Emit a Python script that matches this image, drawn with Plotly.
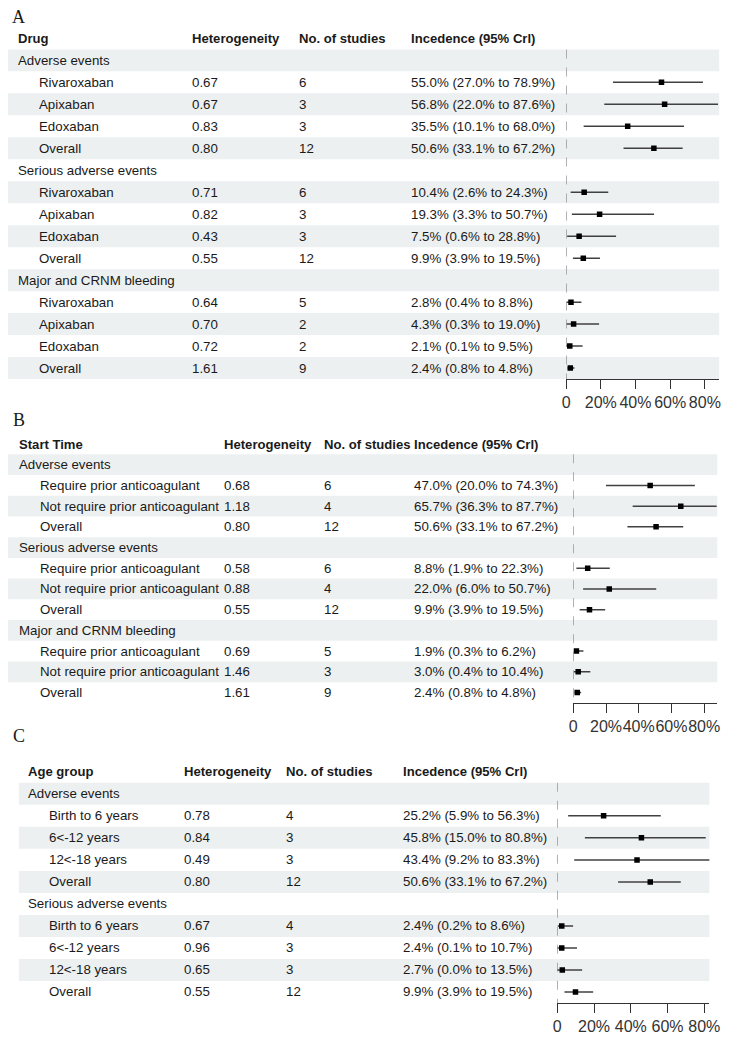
import plotly.graph_objects as go

# page size and default page margin of the html body
PAGE_W, PAGE_H = 750, 1043
OFF = 8
WF, HF = PAGE_W - 2 * OFF, PAGE_H - 2 * OFF

# ---------------- Panel A: Drug ----------------
A_HEADER = ["Drug", "Heterogeneity", "No. of studies", "Incedence (95% Crl)"]
A_GROUPS = ["Adverse events", "Serious adverse events", "Major and CRNM bleeding"]
A_LABELS = [["Rivaroxaban", "Apixaban", "Edoxaban", "Overall"],
            ["Rivaroxaban", "Apixaban", "Edoxaban", "Overall"],
            ["Rivaroxaban", "Apixaban", "Edoxaban", "Overall"]]
A_HET = [[0.67, 0.67, 0.83, 0.80], [0.71, 0.82, 0.43, 0.55], [0.64, 0.70, 0.72, 1.61]]
A_N = [[6, 3, 3, 12], [6, 3, 3, 12], [5, 2, 2, 9]]
A_EST = [[55.0, 56.8, 35.5, 50.6], [10.4, 19.3, 7.5, 9.9], [2.8, 4.3, 2.1, 2.4]]
A_LO = [[27.0, 22.0, 10.1, 33.1], [2.6, 3.3, 0.6, 3.9], [0.4, 0.3, 0.1, 0.8]]
A_HI = [[78.9, 87.6, 68.0, 67.2], [24.3, 50.7, 28.8, 19.5], [8.8, 19.0, 9.5, 4.8]]

# ---------------- Panel B: Start time ----------------
B_HEADER = ["Start Time", "Heterogeneity", "No. of studies", "Incedence (95% Crl)"]
B_GROUPS = ["Adverse events", "Serious adverse events", "Major and CRNM bleeding"]
B_LABELS = [["Require prior anticoagulant", "Not require prior anticoagulant", "Overall"],
            ["Require prior anticoagulant", "Not require prior anticoagulant", "Overall"],
            ["Require prior anticoagulant", "Not require prior anticoagulant", "Overall"]]
B_HET = [[0.68, 1.18, 0.80], [0.58, 0.88, 0.55], [0.69, 1.46, 1.61]]
B_N = [[6, 4, 12], [6, 4, 12], [5, 3, 9]]
B_EST = [[47.0, 65.7, 50.6], [8.8, 22.0, 9.9], [1.9, 3.0, 2.4]]
B_LO = [[20.0, 36.3, 33.1], [1.9, 6.0, 3.9], [0.3, 0.4, 0.8]]
B_HI = [[74.3, 87.7, 67.2], [22.3, 50.7, 19.5], [6.2, 10.4, 4.8]]

# ---------------- Panel C: Age group ----------------
C_HEADER = ["Age group", "Heterogeneity", "No. of studies", "Incedence (95% Crl)"]
C_GROUPS = ["Adverse events", "Serious adverse events"]
C_LABELS = [["Birth to 6 years", "6<-12 years", "12<-18 years", "Overall"],
            ["Birth to 6 years", "6<-12 years", "12<-18 years", "Overall"]]
C_HET = [[0.78, 0.84, 0.49, 0.80], [0.67, 0.96, 0.65, 0.55]]
C_N = [[4, 3, 3, 12], [4, 3, 3, 12]]
C_EST = [[25.2, 45.8, 43.4, 50.6], [2.4, 2.4, 2.7, 9.9]]
C_LO = [[5.9, 15.0, 9.2, 33.1], [0.2, 0.1, 0.0, 3.9]]
C_HI = [[56.3, 80.8, 83.3, 67.2], [8.6, 10.7, 13.5, 19.5]]

TICK_VALS = [0, 20, 40, 60, 80]
TICK_TEXT = ["0", "20%", "40%", "60%", "80%"]

# layout parameters (page pixels)
panels = [
    dict(letter="A", header=A_HEADER, groups=A_GROUPS, labels=A_LABELS, het=A_HET, n=A_N,
         est=A_EST, lo=A_LO, hi=A_HI, row0=60.8, rowh=22.15, cols=(13, 35, 191, 300, 414),
         stripe=(4, 730), zero=573.7, pxper=1.77, xmax=88.3, lpos=(15, 17)),
    dict(letter="B", header=B_HEADER, groups=B_GROUPS, labels=B_LABELS, het=B_HET, n=B_N,
         est=B_EST, lo=B_LO, hi=B_HI, row0=468.3, rowh=20.87, cols=(14, 36, 223, 325, 417),
         stripe=(4, 728), zero=581.0, pxper=1.67, xmax=87.8, lpos=(15, 423)),
    dict(letter="C", header=C_HEADER, groups=C_GROUPS, labels=C_LABELS, het=C_HET, n=C_N,
         est=C_EST, lo=C_LO, hi=C_HI, row0=800.0, rowh=22.19, cols=(23, 45, 183, 287, 406),
         stripe=(15, 720), zero=564.7, pxper=1.875, xmax=82.8, lpos=(15, 742)),
]


def px_x(x):
    return (x - OFF) / WF


def px_y(y):
    return 1 - (y - OFF) / HF


TXT_FONT = dict(family="Liberation Sans, Arial, sans-serif", size=13.3, color="#1a1a1a")
HDR_FONT = dict(family="Liberation Sans, Arial, sans-serif", size=13.1, color="#1a1a1a")
STRIPE = "#edf0f0"

fig = go.Figure()
shapes = []
annotations = []
layout = {}


def add_text(xpx, yref, row, text, font=TXT_FONT):
    annotations.append(dict(text=text, xref="paper", x=px_x(xpx), yref=yref, y=row,
                            xanchor="left", yanchor="middle", showarrow=False,
                            font=font, borderpad=0))


for i, p in enumerate(panels, start=1):
    xf = f"x{i}"
    yy = f"y{i}"
    c_lab, c_ind, c_het, c_n, c_inc = p["cols"]

    # header
    for xpx, h in zip((c_lab, c_het, c_n, c_inc), p["header"]):
        add_text(xpx, yy, -1, f"<b>{h}</b>", HDR_FONT)

    f_y, f_est, f_lo, f_hi = [], [], [], []
    r = 0
    for g, gname in enumerate(p["groups"]):
        add_text(c_lab, yy, r, gname)
        r += 1
        for k, lab in enumerate(p["labels"][g]):
            e, lo, hi = p["est"][g][k], p["lo"][g][k], p["hi"][g][k]
            add_text(c_ind, yy, r, lab)
            add_text(c_het, yy, r, f"{p['het'][g][k]:.2f}")
            add_text(c_n, yy, r, str(p["n"][g][k]))
            add_text(c_inc, yy, r, f"{e:.1f}% ({lo:.1f}% to {hi:.1f}%)")
            f_y.append(r)
            f_est.append(e)
            f_lo.append(e - lo)
            f_hi.append(hi - e)
            r += 1
    nrows = r

    # axes
    top_r, bot_r = -1.6, nrows - 0.5
    top_px = p["row0"] + top_r * p["rowh"]
    bot_px = p["row0"] + bot_r * p["rowh"]
    layout[f"yaxis{i}"] = dict(domain=[px_y(bot_px), px_y(top_px)], range=[bot_r, top_r],
                               visible=False, anchor=xf, fixedrange=True)
    layout[f"xaxis{i}"] = dict(
        domain=[px_x(p["zero"]), px_x(p["zero"] + p["xmax"] * p["pxper"])],
        range=[0, p["xmax"]], anchor=yy, showgrid=False, zeroline=False,
        showline=True, linecolor="#333333", linewidth=1.4, ticks="outside", ticklen=9,
        tickwidth=1.4, tickcolor="#333333", tickvals=TICK_VALS, ticktext=TICK_TEXT,
        tickangle=0,
        tickfont=dict(family="Liberation Sans, Arial, sans-serif", size=16, color="#333333"),
        fixedrange=True)

    # stripes
    for rr in range(0, nrows, 2):
        shapes.append(dict(type="rect", xref="paper", yref=yy, x0=px_x(p["stripe"][0]),
                           x1=px_x(p["stripe"][1]), y0=rr - 0.5, y1=rr + 0.5,
                           fillcolor=STRIPE, line=dict(width=0), layer="below"))
    # dashed reference line at 0
    shapes.append(dict(type="line", xref=xf, yref=yy, x0=0, x1=0, y0=-0.5, y1=nrows - 0.5,
                       line=dict(color="#8c8c8c", width=1.3, dash="dash"), layer="below"))

    # forest
    fig.add_trace(go.Scatter(
        x=f_est, y=f_y, mode="markers", xaxis=xf, yaxis=yy, showlegend=False,
        marker=dict(symbol="square", size=5.5, color="black"),
        error_x=dict(type="data", symmetric=False, array=f_hi, arrayminus=f_lo,
                     width=0, thickness=1.5, color="#404040")))

    annotations.append(dict(text=p["letter"], xref="paper", yref="paper",
                            x=px_x(p["lpos"][0]), y=px_y(p["lpos"][1]), showarrow=False,
                            xanchor="center", yanchor="middle",
                            font=dict(family="Liberation Serif, Times New Roman, serif",
                                      size=18, color="#1a1a1a")))

fig.update_layout(width=WF, height=HF, margin=dict(l=0, r=0, t=0, b=0),
                  paper_bgcolor="white", plot_bgcolor="rgba(0,0,0,0)",
                  shapes=shapes, annotations=annotations, **layout)

fig.write_html("out.html")
